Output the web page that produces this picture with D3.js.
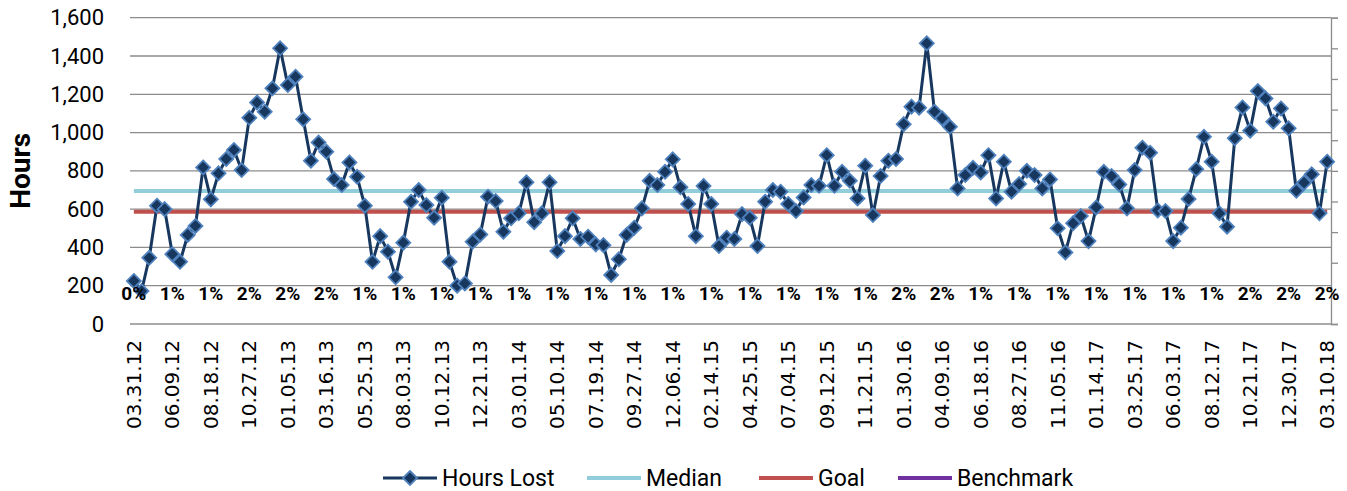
<!DOCTYPE html>
<html>
<head>
<meta charset="utf-8">
<script src="https://cdn.jsdelivr.net/npm/d3@7"></script>
<style>
  body { margin: 0; background: #fff; }
  #chart { width: 1347px; height: 491px; }
</style>
</head>
<body>
<div id="chart"></div>
<script>
// biweekly hours lost, starting 03.31.12
var hoursLost = [
  225, 172, 346, 618, 600, 365, 325, 465, 512, 818,
  651, 787, 862, 909, 804, 1077, 1157, 1109, 1231, 1440,
  1248, 1292, 1069, 853, 948, 900, 757, 726, 844, 769,
  618, 325, 459, 378, 244, 425, 639, 700, 621, 555,
  660, 325, 200, 212, 430, 468, 665, 642, 482, 552,
  578, 740, 532, 578, 740, 381, 459, 552, 444, 456,
  416, 412, 256, 338, 465, 503, 604, 748, 726, 795,
  860, 714, 627, 459, 721, 627, 407, 451, 444, 574,
  555, 407, 639, 700, 691, 627, 590, 661, 726, 722,
  882, 722, 795, 748, 656, 827, 569, 773, 853, 862,
  1044, 1135, 1130, 1466, 1109, 1074, 1030, 708, 778, 816,
  792, 882, 656, 848, 691, 731, 800, 778, 708, 755,
  500, 374, 526, 564, 433, 609, 795, 773, 729, 604,
  804, 921, 895, 593, 590, 433, 503, 653, 809, 978,
  848, 578, 508, 970, 1131, 1010, 1217, 1178, 1057, 1126,
  1022, 696, 738, 782, 578, 848
];
var medianValue = 695;
var goalValue = 586;
var benchmark = [];   // in legend only, no values shown

// percent labels, one every 5th period (matches the date ticks)
var pctLabels = [0, 1, 1, 2, 2, 2, 1, 1, 1, 1, 1, 1, 1, 1, 1, 1,
                 1, 1, 1, 1, 2, 2, 1, 1, 1, 1, 1, 1, 1, 2, 2, 2];

var tickLabels = ['03.31.12', '06.09.12', '08.18.12', '10.27.12', '01.05.13', '03.16.13',
  '05.25.13', '08.03.13', '10.12.13', '12.21.13', '03.01.14', '05.10.14', '07.19.14',
  '09.27.14', '12.06.14', '02.14.15', '04.25.15', '07.04.15', '09.12.15', '11.21.15',
  '01.30.16', '04.09.16', '06.18.16', '08.27.16', '11.05.16', '01.14.17', '03.25.17',
  '06.03.17', '08.12.17', '10.21.17', '12.30.17', '03.10.18'];
var tickEvery = 5;

var yTicks = [0, 200, 400, 600, 800, 1000, 1200, 1400, 1600];

(function () {
    var width = 1347;
    var height = 491;
    var margin = { top: 17.7, right: 16, bottom: 167, left: 130 };
    var uiFont = "Roboto, 'Liberation Sans', sans-serif";

    var svg = d3.select('#chart').append('svg')
        .attr('width', width).attr('height', height);

    var x = d3.scaleBand()
        .domain(d3.range(hoursLost.length))
        .range([margin.left, width - margin.right]);
    var cx = function (i) { return x(i) + x.bandwidth() / 2; };

    var y = d3.scaleLinear()
        .domain([0, 1600])
        .range([height - margin.bottom, margin.top]);

    // secondary (percent) axis, ticks only
    var y2 = d3.scaleLinear()
        .domain([0, 10])
        .range([height - margin.bottom, margin.top]);
    var pctLabelLevel = 1;

    // gridlines
    svg.append('g').selectAll('line').data(yTicks).join('line')
        .attr('x1', margin.left).attr('x2', width - margin.right)
        .attr('y1', function (d) { return y(d); })
        .attr('y2', function (d) { return y(d); })
        .attr('stroke', '#8c8c8c').attr('stroke-width', 1.3);

    // left axis labels
    var yAxis = svg.append('g')
        .attr('transform', 'translate(' + margin.left + ',0)')
        .call(d3.axisLeft(y).tickValues(yTicks).tickSize(0).tickPadding(26)
            .tickFormat(d3.format(',')));
    yAxis.select('.domain').remove();
    yAxis.selectAll('text')
        .style('font-family', uiFont).style('font-size', '22px').attr('fill', '#000');

    // right axis
    var y2Axis = svg.append('g')
        .attr('transform', 'translate(' + (width - margin.right) + ',0)')
        .call(d3.axisRight(y2).ticks(10).tickSize(7).tickFormat(''));
    y2Axis.select('.domain').attr('stroke', '#8c8c8c').attr('stroke-width', 1.3);
    y2Axis.selectAll('.tick line').attr('stroke', '#8c8c8c').attr('stroke-width', 1.3);

    // y title
    svg.append('text')
        .attr('transform', 'translate(20,' + ((margin.top + height - margin.bottom) / 2) + ') rotate(-90)')
        .attr('text-anchor', 'middle').attr('dominant-baseline', 'central')
        .style('font-family', uiFont).style('font-size', '28px').style('font-weight', 'bold')
        .text('Hours');

    // x labels
    var tickIdx = tickLabels.map(function (d, k) { return k * tickEvery; });
    svg.append('g').selectAll('text').data(tickIdx).join('text')
        .attr('transform', function (d) {
            return 'translate(' + cx(d) + ',' + (height - margin.bottom + 16) + ') rotate(-90)';
        })
        .attr('text-anchor', 'end').attr('dominant-baseline', 'central')
        .style('font-family', "'DejaVu Sans', sans-serif").style('font-size', '20px')
        .text(function (d, k) { return tickLabels[k]; });

    // median / goal lines
    var first = 0, last = hoursLost.length - 1;
    [[medianValue, '#92cddc'], [goalValue, '#c0504d']].forEach(function (r) {
        svg.append('line')
            .attr('x1', cx(first)).attr('x2', cx(last))
            .attr('y1', y(r[0])).attr('y2', y(r[0]))
            .attr('stroke', r[1]).attr('stroke-width', 4);
    });

    // hours lost series
    var line = d3.line()
        .x(function (d, i) { return cx(i); })
        .y(function (d) { return y(d); });
    svg.append('path').datum(hoursLost)
        .attr('d', line)
        .attr('fill', 'none').attr('stroke', '#17375e').attr('stroke-width', 3)
        .attr('stroke-linejoin', 'round');

    var diamond = d3.symbol().type(d3.symbolDiamond2).size(125);
    svg.append('g').selectAll('path').data(hoursLost).join('path')
        .attr('d', diamond)
        .attr('transform', function (d, i) { return 'translate(' + cx(i) + ',' + y(d) + ')'; })
        .attr('fill', '#17375e').attr('stroke', '#4f81bd').attr('stroke-width', 1.8);

    // percent labels
    svg.append('g').selectAll('text').data(pctLabels).join('text')
        .attr('x', function (d, k) { return cx(k * tickEvery); })
        .attr('y', y2(pctLabelLevel))
        .attr('text-anchor', 'middle').attr('dominant-baseline', 'central')
        .style('font-family', uiFont).style('font-size', '19px').style('font-weight', 'bold')
        .text(function (d) { return d + '%'; });

    // legend
    var legendItems = [
        { name: 'Hours Lost', color: '#17375e', marker: true, x: 383 },
        { name: 'Median', color: '#92cddc', x: 587 },
        { name: 'Goal', color: '#c0504d', x: 759 },
        { name: 'Benchmark', color: '#7030a0', x: 898 }
    ];
    var lg = svg.append('g').attr('transform', 'translate(0,478)');
    var item = lg.selectAll('g').data(legendItems).join('g')
        .attr('transform', function (d) { return 'translate(' + d.x + ',0)'; });
    item.append('line')
        .attr('x1', 0).attr('x2', 54)
        .attr('stroke', function (d) { return d.color; })
        .attr('stroke-width', function (d) { return d.marker ? 3 : 4; });
    item.filter(function (d) { return d.marker; }).append('path')
        .attr('d', diamond).attr('transform', 'translate(27,0)')
        .attr('fill', '#17375e').attr('stroke', '#4f81bd').attr('stroke-width', 1.8);
    item.append('text')
        .attr('x', 59).attr('dominant-baseline', 'central')
        .style('font-family', uiFont).style('font-size', '23px')
        .text(function (d) { return d.name; });
})();
</script>
</body>
</html>
